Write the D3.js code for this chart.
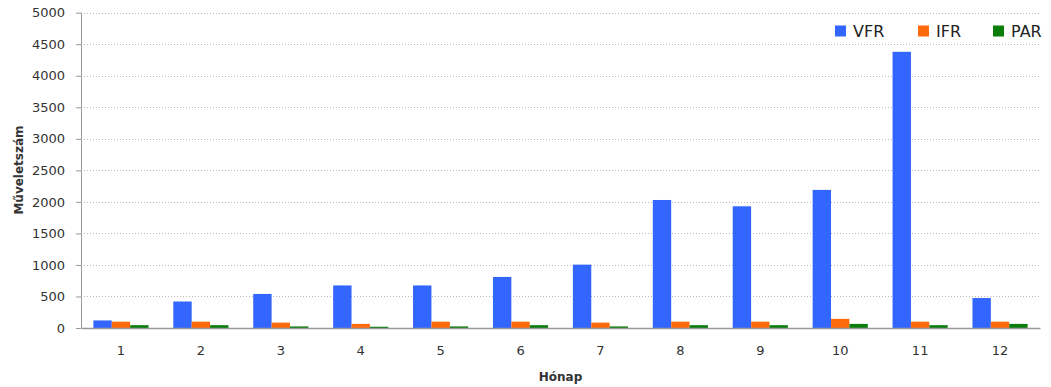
<!DOCTYPE html>
<html><head><meta charset="utf-8">
<script src="https://cdn.jsdelivr.net/npm/d3@7"></script>
<style>body{margin:0;background:#fff}svg{display:block}</style>
</head><body>
<svg id="c" width="1051" height="387"></svg>
<script>
const months = ["1","2","3","4","5","6","7","8","9","10","11","12"];
const seriesNames = ["VFR","IFR","PAR"];
const vfr = [120,420,540,675,675,810,1005,2030,1930,2190,4380,475];
const ifr = [100,100,85,65,100,100,85,100,100,145,100,100];
const par = [45,45,25,20,25,45,25,45,45,65,45,65];
const yTicks = [0,500,1000,1500,2000,2500,3000,3500,4000,4500,5000];
const colors = ["#3366ff","#ff6a0d","#0b7d0b"];
const yTitle = "Műveletszám";
const xTitle = "Hónap";

const values = [vfr, ifr, par];
const svg = d3.select("#c");
const m = {l:81, r:1040, t:12.7, b:328};
const font = "'DejaVu Sans', Verdana, sans-serif";

const x = d3.scaleBand().domain(months).range([m.l, m.r]).paddingInner(0.31).paddingOuter(0.155);
const xs = d3.scaleBand().domain(seriesNames).range([0, x.bandwidth()]);
const y = d3.scaleLinear().domain([0,5000]).range([m.b, m.t]);

// gridlines
svg.append("g").selectAll("line").data(yTicks.filter(d=>d>0)).join("line")
  .attr("x1", m.l).attr("x2", m.r)
  .attr("y1", d=>Math.round(y(d))+0.5).attr("y2", d=>Math.round(y(d))+0.5)
  .attr("stroke", "#b8b8b8").attr("stroke-dasharray","1,2");

// bars
seriesNames.forEach((s,i)=>{
  svg.append("g").selectAll("rect").data(months).join("rect")
    .attr("x", d=>x(d)+xs(s)).attr("width", xs.bandwidth())
    .attr("y", (d,j)=>y(values[i][j])).attr("height", (d,j)=>y(0)-y(values[i][j]))
    .attr("fill", colors[i]);
});

// y axis
const ya = svg.append("g").attr("transform",`translate(${m.l},0)`)
  .call(d3.axisLeft(y).tickValues(yTicks).tickSize(5).tickPadding(11).tickFormat(d3.format("d")));
ya.select(".domain").attr("stroke","#999").attr("d",`M0.5,${m.t}V${m.b}`);
ya.selectAll(".tick line").attr("stroke","#999");
ya.selectAll("text").attr("font-family",font).attr("font-size","13px").attr("fill","#333");

// x axis
const xa = svg.append("g").attr("transform",`translate(0,${m.b})`)
  .call(d3.axisBottom(x).tickSize(0).tickPadding(18));
xa.select(".domain").attr("stroke","#999").attr("stroke-width",1.5);
xa.selectAll("text").attr("font-family",font).attr("font-size","13px").attr("fill","#333");

// titles
svg.append("text").attr("transform","translate(23,170) rotate(-90)")
  .attr("text-anchor","middle").attr("font-family",font).attr("font-weight","bold")
  .attr("font-size","12px").attr("fill","#333").text(yTitle);
svg.append("text").attr("x",(m.l+m.r)/2).attr("y",381)
  .attr("text-anchor","middle").attr("font-family",font).attr("font-weight","bold")
  .attr("font-size","12px").attr("fill","#333").text(xTitle);

// legend
const legX = [835, 918, 993];
seriesNames.forEach((s,i)=>{
  svg.append("rect").attr("x",legX[i]).attr("y",25.5).attr("width",11).attr("height",11).attr("fill",colors[i]);
  svg.append("text").attr("x",legX[i]+18).attr("y",37).attr("font-family",font)
    .attr("font-size","16px").attr("fill","#222").text(s);
});
</script>
</body></html>
